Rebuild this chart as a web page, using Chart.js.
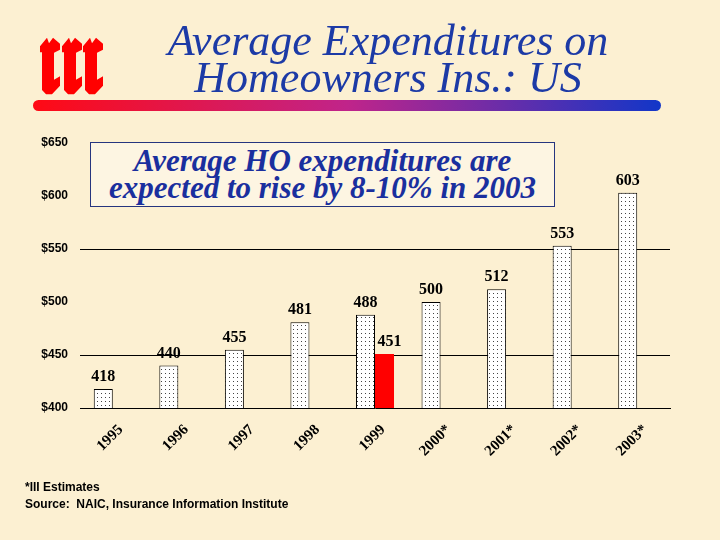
<!DOCTYPE html>
<html lang="en">
<head>
  <meta charset="UTF-8" />
  <title>Average Expenditures on Homeowners Ins.: US</title>
  <script src="https://cdn.jsdelivr.net/npm/chart.js"></script>
  <style>
    html, body { margin: 0; padding: 0; }
    body {
      width: 720px; height: 540px; overflow: hidden; position: relative;
      background: #fcf0d2;
    }
    #wrap { position: absolute; left: 0; top: 0; width: 720px; height: 540px; }
    .logo { position: absolute; left: 40px; top: 36px; width: 64px; height: 60px; }
    .logo span {
      position: absolute; top: 0; width: 20px; height: 60px; background: #f00;
      clip-path: polygon(0 17%, 35% 3%, 45% 12%, 65% 3%, 100% 13%, 100% 23%, 70% 28%, 70% 73%, 100% 67%, 100% 83%, 60% 97%, 30% 97%, 10% 90%, 10% 27%, 0 27%);
      color: transparent; font-size: 1px;
    }
    .title {
      position: absolute; left: 150px; width: 476px; top: 22px;
      text-align: center; font: italic 44px/37px 'Liberation Serif', serif;
      color: #1c3aa6;
    }
    .rule {
      position: absolute; left: 33px; top: 100px; width: 628px; height: 11px;
      border-radius: 6px; background: linear-gradient(to right, #ff0a14, #c0248a 50%, #1236c8);
    }
    .note {
      position: absolute; left: 90px; top: 142px; width: 465px; height: 65px;
      border: 1.5px solid #26357f; background: #fdf5e2;
      text-align: center; font: italic bold 31px/27px 'Liberation Serif', serif;
      color: #1a2f9e; padding-top: 4px; box-sizing: border-box; white-space: nowrap;
    }
    .foot {
      position: absolute; left: 25px; top: 479px;
      font: bold 12px/17px 'Liberation Sans', Arial, sans-serif; color: #000;
    }
  </style>
</head>
<body>
  <div id="wrap"><canvas id="chart" width="720" height="540"></canvas></div>
  <div class="logo"><span style="left:0">i</span><span style="left:22px">i</span><span style="left:43px">i</span></div>
  <div class="title">Average Expenditures on<br>Homeowners Ins.: US</div>
  <div class="rule"></div>
  <div class="note">Average HO expenditures are<br>expected to rise by 8-10% in 2003</div>
  <div class="foot">*III Estimates<br>Source:&nbsp; NAIC, Insurance Information Institute</div>

  <script>
    const years = ['1995', '1996', '1997', '1998', '1999', '2000*', '2001*', '2002*', '2003*'];
    const expenditures = [418, 440, 455, 481, 488, 500, 512, 553, 603];
    const secondValue = [null, null, null, null, 451, null, null, null, null];
    const gridValues = [450, 550];

    // dotted fill like the original
    function dots() {
      const c = document.createElement('canvas');
      c.width = 4; c.height = 4;
      const g = c.getContext('2d');
      g.fillStyle = '#fff';
      g.fillRect(0, 0, 4, 4);
      g.fillStyle = '#444';
      g.fillRect(1, 1, 1, 1);
      return g.createPattern(c, 'repeat');
    }

    const valueLabels = {
      id: 'valueLabels',
      afterDatasetsDraw(chart) {
        const ctx = chart.ctx;
        ctx.save();
        ctx.font = 'bold 16px "Liberation Serif", serif';
        ctx.fillStyle = '#000';
        ctx.textAlign = 'center';
        ctx.textBaseline = 'alphabetic';
        chart.data.datasets.forEach((ds, i) => {
          chart.getDatasetMeta(i).data.forEach((bar, j) => {
            if (ds.data[j] == null) return;
            ctx.fillText(ds.data[j], bar.x + (i ? 5 : 0), bar.y - 8);
          });
        });
        ctx.restore();
      }
    };

    new Chart(document.getElementById('chart'), {
      type: 'bar',
      data: {
        labels: years,
        datasets: [
          { data: expenditures, backgroundColor: dots(), borderColor: '#000', borderWidth: 1 },
          { data: secondValue, backgroundColor: '#ff0000', borderWidth: 0 }
        ]
      },
      options: {
        responsive: false,
        animation: false,
        datasets: { bar: { categoryPercentage: 0.58, barPercentage: 1 } },
        layout: { padding: { top: 143, right: 50, left: 0, bottom: 0 } },
        plugins: { legend: { display: false }, tooltip: { enabled: false } },
        scales: {
          x: {
            afterFit: s => { s.height = 132; },
            grid: { display: false },
            border: { color: '#000', width: 1 },
            ticks: {
              color: '#000', maxRotation: 45, minRotation: 45, padding: 5, labelOffset: 8,
              font: { family: 'Liberation Serif', size: 15, weight: 'bold' }
            }
          },
          y: {
            min: 400, max: 650,
            afterFit: s => { s.width = 80; },
            border: { display: false },
            grid: {
              drawTicks: false,
              color: c => gridValues.includes(c.tick.value) ? '#000' : 'rgba(0,0,0,0)'
            },
            ticks: {
              stepSize: 50, padding: 12, color: '#000',
              font: { family: 'Liberation Sans', size: 12, weight: 'bold' },
              callback: v => '$' + v
            }
          }
        }
      },
      plugins: [valueLabels]
    });
  </script>
</body>
</html>
